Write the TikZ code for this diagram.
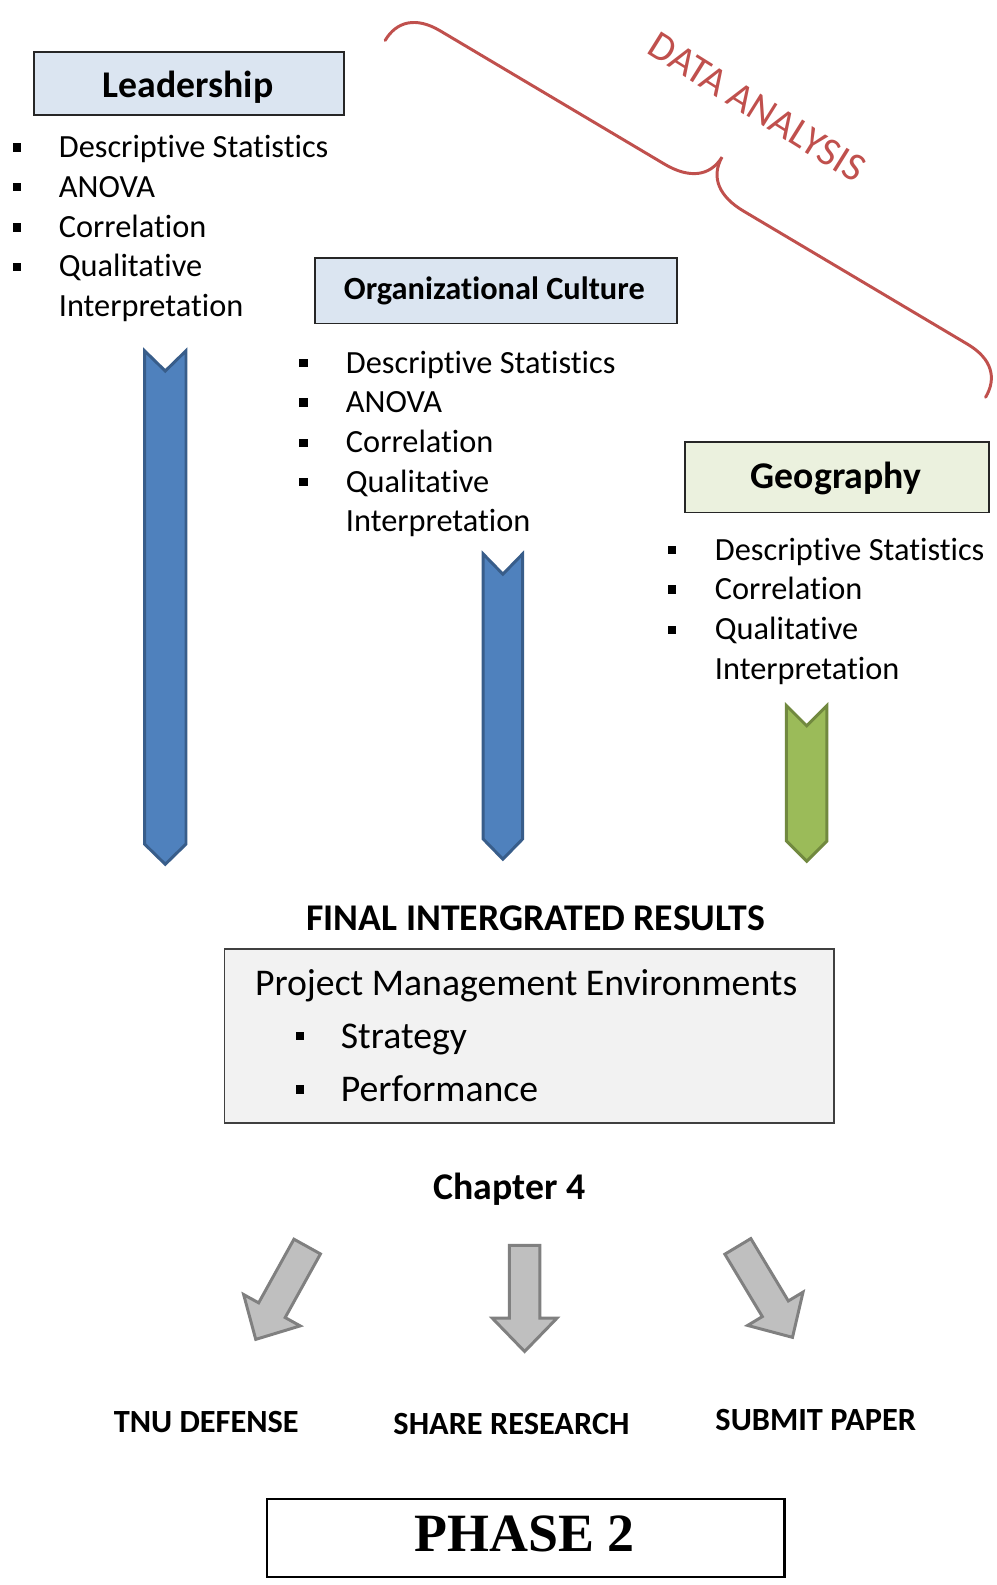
\documentclass[tikz,border=0pt]{standalone}
\usepackage{fontspec}
\setmainfont{Carlito}[Ligatures=NoCommon]
\newfontfamily\phasefont{Liberation Serif}

\definecolor{headblue}{HTML}{DBE5F1}
\definecolor{headgreen}{HTML}{EBF1DE}
\definecolor{chevblue}{HTML}{4F81BD}
\definecolor{chevblueline}{HTML}{385D8A}
\definecolor{chevgreen}{HTML}{9BBB59}
\definecolor{chevgreenline}{HTML}{71893F}
\definecolor{bracered}{HTML}{C0504D}
\definecolor{panelgray}{HTML}{F2F2F2}
\definecolor{arrowfill}{HTML}{BFBFBF}
\definecolor{arrowline}{HTML}{808080}

\tikzset{
  every node/.style={inner sep=0pt},
  boxline/.style={draw=black!85, line width=1.4pt},
  headbox/.style={boxline, fill=headblue},
  geobox/.style={boxline, fill=headgreen},
  panel/.style={draw=black!75, line width=1.2pt, fill=panelgray},
  phasebox/.style={draw=black, line width=2pt},
  body/.style={font=\fontsize{24}{29}\selectfont, anchor=base west},
  bigbody/.style={font=\fontsize{28}{34}\selectfont, anchor=base west},
  headtext/.style={font=\fontsize{28}{34}\selectfont\bfseries, anchor=base},
  midhead/.style={font=\fontsize{24}{29}\selectfont\bfseries, anchor=base},
  steplabel/.style={font=\fontsize{24}{29}\selectfont\bfseries, anchor=base},
  bulletsq/.style={fill=black, minimum size=6.3pt, inner sep=0pt},
  bluechev/.style={fill=chevblue, draw=chevblueline, line width=2.2pt, line join=miter},
  greenchev/.style={fill=chevgreen, draw=chevgreenline, line width=2.2pt, line join=miter},
  bracestyle/.style={draw=bracered, line width=2.2pt, line cap=round},
  grayarrow/.pic={
    \draw[fill=arrowfill, draw=arrowline, line width=2.2pt, line join=miter]
      (-15,-105) -- (15,-105) -- (15,-33) -- (32,-33) -- (0,0)
      -- (-32,-33) -- (-15,-33) -- cycle;
  }
}

% chevron band: left x, right x, top y, bottom y, style
\newcommand\chevband[5]{%
  \draw[#5] (#1,#3) -- ({(#1+#2)/2},{#3+20}) -- (#2,#3) -- (#2,{#4-20})
    -- ({(#1+#2)/2},#4) -- (#1,{#4-20}) -- cycle;
}

\begin{document}
\begin{tikzpicture}[x=0.75pt, y=-0.75pt]
\useasboundingbox (0,0) rectangle (986,1568);

% ---------- Leadership ----------
\node[headbox, minimum width=229.5pt, minimum height=47.25pt] (leadbox) at (187,82.5) {};
\node[headtext] (leadtitle) at (186,96) {Leadership};
\foreach \y/\t [count=\i] in {156/Descriptive Statistics, 195/ANOVA, 235/Correlation, 274/Qualitative} {
  \node[bulletsq] (lb\i) at (17,\y-10) {};
  \node[body] (lt\i) at (58,\y) {\t};
}
\node[body] (lt5) at (58,313) {Interpretation};

% ---------- Organizational Culture ----------
\node[headbox, minimum width=268.5pt, minimum height=48.75pt] (orgbox) at (491,287.5) {};
\node[midhead] (orgtitle) at (489,296) {Organizational Culture};
\foreach \y/\t [count=\i] in {369/Descriptive Statistics, 408/ANOVA, 448/Correlation, 487/Qualitative} {
  \node[bulletsq] (ob\i) at (300,\y-10) {};
  \node[body] (ot\i) at (342,\y) {\t};
}
\node[body] (ot5) at (342,526) {Interpretation};

% ---------- Geography ----------
\node[geobox, minimum width=225pt, minimum height=52.5pt] (geobox) at (828,472) {};
\node[headtext] (geotitle) at (827,483) {Geography};
\foreach \y/\t [count=\i] in {554/Descriptive Statistics, 593/Correlation, 633/Qualitative} {
  \node[bulletsq] (gb\i) at (665,\y-10) {};
  \node[body] (gt\i) at (707,\y) {\t};
}
\node[body] (gt4) at (707,672) {Interpretation};

% ---------- data analysis brace ----------
\coordinate (braceL) at (381,40);
\coordinate (braceR) at (975,393);
\begin{scope}[shift={(braceL)}, rotate=-30.72]
  \draw[bracestyle] (0,0) .. controls (0,-22) and (14,-36) .. (42,-36)
    -- (300,-36) .. controls (328,-36) and (345,-48) .. (345.5,-71)
    .. controls (346,-48) and (363,-36) .. (391,-36)
    -- (649,-36) .. controls (677,-36) and (691,-22) .. (691,0);
\end{scope}
\node[font=\fontsize{30}{36}\selectfont, text=bracered, rotate=-32] (datalabel) at (749,106) {DATA ANALYSIS};

% ---------- chevron bands ----------
\chevband{143}{184}{347}{855}{bluechev}
\chevband{478}{517}{548}{850}{bluechev}
\chevband{778}{818}{698}{852}{greenchev}

% ---------- integrated results ----------
\node[headtext] (finaltitle) at (530,921) {FINAL INTERGRATED RESULTS};
\node[panel, minimum width=452.25pt, minimum height=129pt] (panel) at (523.5,1025) {};
\node[bigbody] (pme) at (252,985) {Project Management Environments};
\node[bulletsq] (pb1) at (297,1025) {};
\node[bigbody] (pt1) at (337,1037) {Strategy};
\node[bulletsq] (pb2) at (297,1078) {};
\node[bigbody] (pt2) at (337,1090) {Performance};

\node[headtext] (chapter) at (504,1187) {Chapter 4};

% ---------- outputs ----------
\pic[rotate=-29] at (253,1325) {grayarrow};
\pic at (519,1337) {grayarrow};
\pic[rotate=31] at (784,1323) {grayarrow};

\node[steplabel] (tnu) at (204,1417) {TNU DEFENSE};
\node[steplabel] (share) at (506,1419) {SHARE RESEARCH};
\node[steplabel] (submit) at (807,1415) {SUBMIT PAPER};

% ---------- phase ----------
\node[phasebox, minimum width=384pt, minimum height=57.75pt] (phasebox) at (520,1521.5) {};
\node[font=\fontsize{40}{48}\phasefont\bfseries, anchor=base] (phase) at (519,1535) {PHASE 2};

\end{tikzpicture}
\end{document}
